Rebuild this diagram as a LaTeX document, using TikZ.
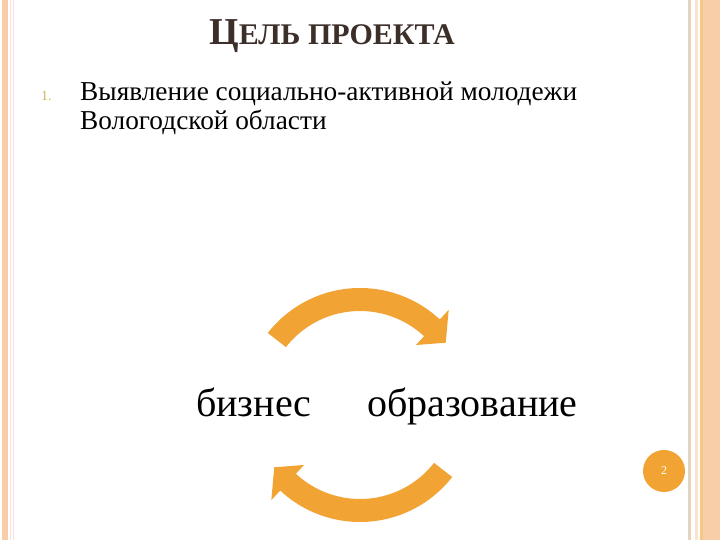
\documentclass[tikz,border=0pt]{standalone}
\usepackage{fontspec}
\setmainfont{Liberation Serif}
\usetikzlibrary{positioning}
\definecolor{slideorange}{RGB}{241,163,52}
\definecolor{titlebrown}{RGB}{60,47,42}
\definecolor{numgold}{RGB}{216,178,90}
\definecolor{edgepeach}{RGB}{248,206,168}
\definecolor{edgetan}{RGB}{228,212,192}
\definecolor{edgepink}{RGB}{250,226,224}

\begin{document}
\begin{tikzpicture}[x=1pt, y=1pt,
  txt/.style={anchor=base west, inner sep=0pt},
  bigword/.style={txt, font=\fontsize{40}{40}\selectfont},
  cyclearrow/.style={fill=slideorange}]
  \useasboundingbox (0,0) rectangle (720,540);
  \fill[white] (0,0) rectangle (720,540);
  \fill[edgepeach] (2,0) rectangle (8,540);
  \fill[edgepink] (10,0) rectangle (11,540) (13,0) rectangle (14,540);
  \fill[edgetan] (688,0) rectangle (691,540);
  \fill[edgepeach!60] (695,0) rectangle (698,540);
  \fill[slideorange!60] (700,0) rectangle (703,540);
  \fill[edgepeach] (703,0) rectangle (720,540);

  \node[txt, text=titlebrown, font=\bfseries] (title) at (209,495)
    {{\fontsize{38}{38}\selectfont Ц}{\fontsize{30}{30}\selectfont ЕЛЬ ПРОЕКТА}};
  \node[txt, text=numgold, font=\fontsize{14}{14}\selectfont] (num) at (41,439) {1.};
  \node[txt, font=\fontsize{27.3}{27.3}\selectfont] (line1) at (80,439)
    {Выявление социально-активной молодежи};
  \node[txt, font=\fontsize{27.3}{27.3}\selectfont] (line2) at (80,410)
    {Вологодской области};

  \node[bigword] (biz) at (196,123) {бизнес};
  \node[bigword] (edu) at (367,123) {образование};

  \begin{scope}[shift={(360,135)}]
    \fill[cyclearrow] (142:117) arc[start angle=142, end angle=47, radius=117]
      -- (47:130) -- (36:106) -- (47:82) -- (47:94)
      arc[start angle=47, end angle=142, radius=94] -- cycle;
    \fill[cyclearrow] (322:117) arc[start angle=322, end angle=227, radius=117]
      -- (227:130) -- (216:106) -- (227:82) -- (227:94)
      arc[start angle=227, end angle=322, radius=94] -- cycle;
  \end{scope}

  \node[circle, fill=slideorange, minimum size=42pt, inner sep=0pt,
    text=white, font=\fontsize{12}{12}\selectfont] (page) at (664,69) {2};
\end{tikzpicture}
\end{document}
